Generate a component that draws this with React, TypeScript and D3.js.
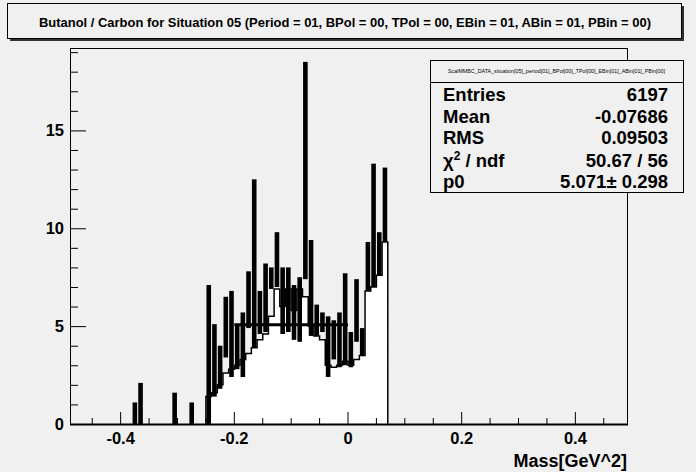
import React from 'react';
import * as d3 from 'd3';

const W = 696;
const H = 472;

// Histogram (bin width 0.01), bin centers
const binCenters = [
  -0.375, -0.365, -0.305, -0.275,
  -0.245, -0.235, -0.225, -0.215, -0.205, -0.195, -0.185, -0.175,
  -0.165, -0.155, -0.145, -0.135, -0.125, -0.115, -0.105, -0.095,
  -0.085, -0.075, -0.065, -0.055, -0.045, -0.035, -0.025, -0.015,
  -0.005, 0.005, 0.015, 0.025, 0.035, 0.045, 0.055, 0.065,
];
// lower / upper end of the thick error bars
const errLow = [
  0, 0, 0, 0,
  0, 1.4, 1.8, 3.4, 2.4, 2.8, 2.4, 4.9,
  3.9, 4.6, 4.7, 6.9, 7.0, 4.6, 4.7, 4.3,
  4.2, 7.4, 4.5, 4.5, 4.7, 2.4, 3.3, 2.9,
  3.0, 2.9, 4.2, 3.5, 6.8, 7.0, 7.6, 9.3,
];
const errHigh = [
  1.1, 2.1, 1.6, 1.1,
  7.1, 5.1, 4.0, 6.5, 6.8, 5.1, 5.7, 7.8,
  12.5, 6.8, 8.2, 8.0, 9.8, 8.0, 8.0, 7.1,
  7.5, 18.5, 9.4, 6.1, 5.7, 5.5, 5.3, 5.7,
  7.7, 4.7, 7.4, 4.9, 9.3, 13.3, 9.8, 13.1,
];
// white filled histogram level
const fillVal = [
  0, 0, 0, 0,
  1.4, 1.6, 2.0, 2.6, 2.8, 3.0, 3.3, 3.6,
  3.9, 4.3, 4.6, 5.5, 6.9, 6.0, 6.9, 5.8,
  6.9, 6.5, 5.0, 4.5, 4.3, 3.0, 2.9, 3.0,
  3.2, 3.0, 3.3, 3.5, 6.8, 7.0, 7.6, 9.3,
];
const binWidth = 0.01;

// pol0 fit
const fitP0 = 5.071;
const fitRange = [-0.2, 0.0];

const xMajor = [-0.4, -0.2, 0, 0.2, 0.4];
const xMajorLabels = ['-0.4', '-0.2', '0', '0.2', '0.4'];
const xMinor = [-0.45, -0.35, -0.3, -0.25, -0.15, -0.1, -0.05, 0.05, 0.1, 0.15, 0.25, 0.3, 0.35, 0.45];
const yMajor = [0, 5, 10, 15];
const yMinor = [1, 2, 3, 4, 6, 7, 8, 9, 11, 12, 13, 14, 16, 17, 18, 19];

const titleText = 'Butanol / Carbon for Situation 05 (Period = 01, BPol = 00, TPol = 00, EBin = 01, ABin = 01, PBin = 00)';
const statsName = 'ScalMMBC_DATA_situation[05]_period[01]_BPol[00]_TPol[00]_EBin[01]_ABin[01]_PBin[00]';
const statsLabels = ['Entries', 'Mean', 'RMS', 'CHI', 'p0'];
const statsValues = ['6197', '-0.07686', '0.09503', '50.67 / 56', '5.071\u00b1 0.298'];

const BG = '#f0f0f0';
const FONT = '"Liberation Sans", Arial, Helvetica, sans-serif';

export default function App() {
  const left = 70, right = 627, top = 48, bottom = 424;
  const x = d3.scaleLinear().domain([-0.49, 0.49]).range([left - 0.5, right - 0.5]);
  const y = d3.scaleLinear().domain([0, 19.21]).range([bottom, top]);

  const filled = binCenters
    .map((c, i) => ({ c, v: fillVal[i] }))
    .filter((d) => d.v > 0);
  const pts: [number, number][] = filled.map((d) => [d.c - binWidth / 2, d.v]);
  const last = filled[filled.length - 1];
  pts.push([last.c + binWidth / 2, last.v]);
  const area = d3
    .area<[number, number]>()
    .x((d) => x(d[0]))
    .y0(y(0))
    .y1((d) => y(d[1]))
    .curve(d3.curveStepAfter);
  const outline = d3
    .line<[number, number]>()
    .x((d) => x(d[0]))
    .y((d) => y(d[1]))
    .curve(d3.curveStepAfter);
  const outlinePath =
    `M${x(pts[0][0])},${y(0)}` +
    (outline(pts) || '').replace(/^M/, 'L') +
    `L${x(pts[pts.length - 1][0])},${y(0)}`;

  const fitLine = d3
    .line<number>()
    .x((d) => x(d))
    .y(() => y(fitP0));

  const sx = 430, sy = 60, sw = 253, sh = 132;
  const rowY = [101, 123, 144, 167, 188];
  const barW = 4.6;

  return (
    <svg width={W} height={H} style={{ position: 'absolute', left: 0, top: 0, display: 'block' }} fontFamily={FONT}>
      <rect x={0} y={0} width={W} height={H} fill={BG} />

      {/* title box */}
      <rect x={10} y={6} width={674} height={35} fill="#303030" />
      <rect x={7.5} y={3.5} width={674} height={35} fill={BG} stroke="#000" strokeWidth={1} />
      <text x={345} y={26.5} textAnchor="middle" fontSize={13} fontWeight="bold" textLength={612} lengthAdjust="spacingAndGlyphs">
        {titleText}
      </text>

      {/* histogram fill */}
      <path d={area(pts) || ''} fill="#ffffff" />
      <path d={outlinePath} fill="none" stroke="#000" strokeWidth={1.5} />

      {/* error bars */}
      {binCenters.map((c, i) => (
        <rect
          key={i}
          x={x(c) - barW / 2}
          y={y(errHigh[i])}
          width={barW}
          height={Math.max(1, y(errLow[i]) - y(errHigh[i]))}
          fill="#000"
        />
      ))}

      {/* fit */}
      <path d={fitLine(fitRange) || ''} stroke="#000" strokeWidth={3} fill="none" />

      {/* frame */}
      <rect x={left + 0.5} y={top + 0.5} width={right - left} height={bottom - top} fill="none" stroke="#000" strokeWidth={1} />
      <line x1={left} x2={right + 1} y1={bottom + 0.5} y2={bottom + 0.5} stroke="#000" strokeWidth={2} />

      {/* x ticks */}
      {xMajor.map((t) => (
        <line key={'xM' + t} x1={x(t)} x2={x(t)} y1={bottom} y2={bottom - 12} stroke="#000" strokeWidth={1} />
      ))}
      {xMinor.map((t) => (
        <line key={'xm' + t} x1={x(t)} x2={x(t)} y1={bottom} y2={bottom - 6} stroke="#000" strokeWidth={1} />
      ))}
      {xMajor.map((t, i) => (
        <text key={'xl' + t} x={x(t)} y={444} textAnchor="middle" fontSize={16.5} fontWeight="bold">
          {xMajorLabels[i]}
        </text>
      ))}
      <text x={627} y={467} textAnchor="end" fontSize={18} fontWeight="bold">
        Mass[GeV^2]
      </text>

      {/* y ticks */}
      {yMajor.map((t) => (
        <line key={'yM' + t} x1={left} x2={left + 16} y1={y(t) + 0.5} y2={y(t) + 0.5} stroke="#000" strokeWidth={1} />
      ))}
      {yMinor.map((t) => (
        <line key={'ym' + t} x1={left} x2={left + 8} y1={y(t) + 0.5} y2={y(t) + 0.5} stroke="#000" strokeWidth={1} />
      ))}
      {yMajor.map((t) => (
        <text key={'yl' + t} x={64} y={y(t) + 6} textAnchor="end" fontSize={16.5} fontWeight="bold">
          {String(t)}
        </text>
      ))}

      {/* stats box */}
      <rect x={sx + 1} y={sy + 1} width={sw} height={sh} fill="#000" />
      <rect x={sx + 0.5} y={sy + 0.5} width={sw} height={sh} fill={BG} stroke="#000" strokeWidth={1} />
      <line x1={sx} x2={sx + sw} y1={82.5} y2={82.5} stroke="#000" strokeWidth={1} />
      <text x={sx + sw / 2} y={73} textAnchor="middle" fontSize={5.5} textLength={217} lengthAdjust="spacingAndGlyphs">
        {statsName}
      </text>
      {statsLabels.map((l, i) => (
        <text key={'sl' + i} x={443} y={rowY[i]} fontSize={18.5} fontWeight="bold">
          {l === 'CHI' ? (
            <>
              {'\u03c7'}
              <tspan fontSize={12} dy={-7}>2</tspan>
              <tspan dy={7}>{' / ndf'}</tspan>
            </>
          ) : (
            l
          )}
        </text>
      ))}
      {statsValues.map((v, i) => (
        <text key={'sv' + i} x={668} y={rowY[i]} textAnchor="end" fontSize={18.5} fontWeight="bold">
          {v}
        </text>
      ))}
    </svg>
  );
}
